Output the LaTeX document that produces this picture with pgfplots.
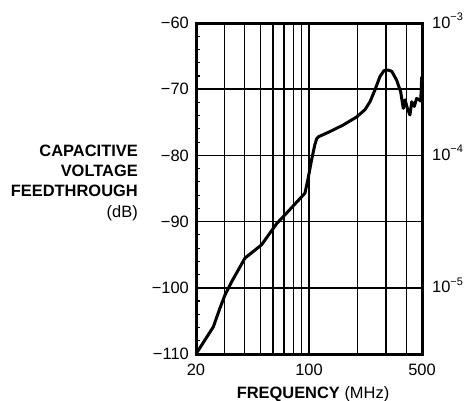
\documentclass[border=0pt]{standalone}
\usepackage{fontspec}
\setmainfont{Liberation Sans}
\usepackage{pgfplots}
\pgfplotsset{compat=1.18}
\begin{document}
\begin{tikzpicture}
\begin{axis}[
  scale only axis, width=226bp, height=331bp,
  xmode=log, xmin=20, xmax=500, ymin=-110, ymax=-60,
  clip=false,
  xtick={20,30,40,50,60,70,80,90,100,200,300,400,500},
  xticklabels={20,,,,,,,,100,,,,500},
  ytick={-110,-100,-90,-80,-70,-60},
  yticklabels={−110,−100,−90,−80,−70,−60},
  minor ytick={-108,-106,-104,-102,-98,-96,-94,-92,-88,-86,-84,-82,-78,-76,-74,-72,-68,-66,-64,-62},
  xmajorgrids, ymajorgrids,
  major grid style={black, line width=1.5bp},
  axis line style={line width=3bp},
  xtick style={draw=none},
  ytick pos=left, tick align=inside,
  major tick length=0bp, minor tick length=4bp,
  minor tick style={line width=1.1bp, black},
  tick label style={font=\fontsize{16.5}{18}\selectfont},
  yticklabel style={inner sep=0pt, xshift=-7bp},
  xticklabel style={inner sep=0pt, yshift=-10bp},
]
\addplot[black, line width=3bp, line join=round] coordinates {
(20,-110) (25.6,-105.9) (28.1,-103.1) (30.2,-101.1) (33.2,-99.1) (40.2,-95.5)
(50.9,-93.5) (63.1,-90.3) (72.8,-88.7) (94.4,-85.7) (98.9,-83.4) (103.7,-80.7)
(108.6,-78.4) (111.5,-77.5) (114,-77.2) (134.8,-76.4) (162.9,-75.4) (197,-74.2)
(221.8,-73.1) (238.3,-71.9) (256,-70.1) (274.6,-68.1) (291,-67.2) (308,-67.1)
(325,-67.3) (348,-68.6) (369,-70.4) (383,-72.9) (393,-71.6) (406,-72.9)
(421,-73.9) (432,-71.9) (448,-72.6) (463,-71.4) (481,-71.6) (491,-71.8) (498,-68.1)
};
\begin{scope}[font=\fontsize{16.5}{20}\selectfont]
\node[anchor=base east, inner sep=0pt] at ([xshift=-58bp,yshift=-133bp]rel axis cs:0,1) {\bfseries CAPACITIVE};
\node[anchor=base east, inner sep=0pt] at ([xshift=-58bp,yshift=-153bp]rel axis cs:0,1) {\bfseries VOLTAGE};
\node[anchor=base east, inner sep=0pt] at ([xshift=-58bp,yshift=-173bp]rel axis cs:0,1) {\bfseries FEEDTHROUGH};
\node[anchor=base east, inner sep=0pt] at ([xshift=-58bp,yshift=-194bp]rel axis cs:0,1) {(dB)};
\node[anchor=base, inner sep=0pt] at ([xshift=4bp,yshift=-44bp]rel axis cs:0.5,0) {\textbf{FREQUENCY} (MHz)};
\end{scope}
\begin{scope}[font=\fontsize{16.5}{18}\selectfont]
\node[anchor=base west, inner sep=0pt] at ([xshift=10bp,yshift=-5bp]axis cs:500,-60) {10\raisebox{7.5bp}{\fontsize{11}{11}\selectfont −3}};
\node[anchor=base west, inner sep=0pt] at ([xshift=10bp,yshift=-5bp]axis cs:500,-80) {10\raisebox{7.5bp}{\fontsize{11}{11}\selectfont −4}};
\node[anchor=base west, inner sep=0pt] at ([xshift=10bp,yshift=-5bp]axis cs:500,-100) {10\raisebox{7.5bp}{\fontsize{11}{11}\selectfont −5}};
\end{scope}
\coordinate (bl) at ([xshift=-196bp,yshift=-47bp]rel axis cs:0,0);
\coordinate (tr) at ([xshift=46bp,yshift=23bp]rel axis cs:1,1);
\end{axis}
\pgfresetboundingbox
\path (bl) rectangle (tr);
\end{tikzpicture}
\end{document}
